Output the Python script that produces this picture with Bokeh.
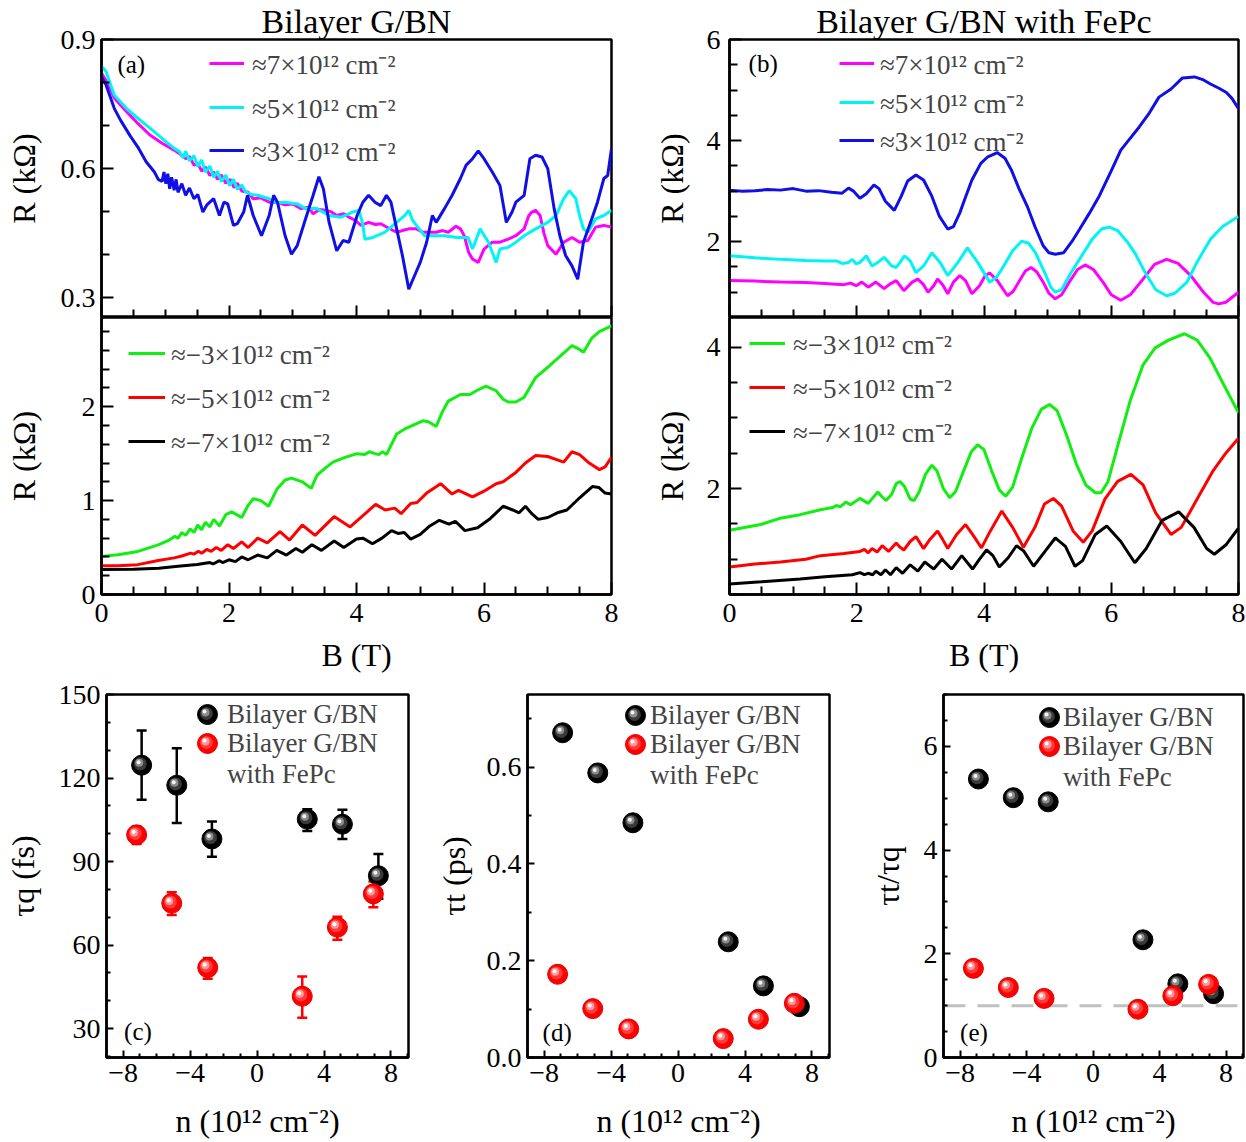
from bokeh.plotting import figure
from bokeh.layouts import row, column
from bokeh.models import (Range1d, FixedTicker, Legend, LegendItem, Label, Title,
                          ColumnDataSource, Whisker, TeeHead, Span)
from bokeh.core.properties import value
from bokeh.transform import dodge
from bokeh.embed import file_html
from bokeh.resources import INLINE

FONT = "Liberation Serif"

# ---------------- panel (a): Bilayer G/BN, B (T) vs R (kOhm) ----------------
a_p7 = [(0.00,0.822),(0.11,0.795),(0.20,0.764),(0.39,0.733),(0.57,0.705),(0.76,0.678),(0.95,0.659),(1.14,0.643),(1.25,0.632),(1.32,0.623),(1.38,0.628),(1.45,0.608),(1.51,0.612),(1.57,0.594),(1.63,0.604),(1.70,0.584),(1.76,0.592),(1.82,0.575),(1.88,0.585),(1.95,0.566),(2.02,0.575),(2.08,0.556),(2.13,0.566),(2.20,0.548),(2.30,0.545),(2.38,0.530),(2.50,0.532),(2.63,0.522),(2.75,0.522),(2.88,0.516),(3.00,0.518),(3.13,0.507),(3.25,0.510),(3.32,0.495),(3.42,0.505),(3.51,0.503),(3.60,0.500),(3.69,0.491),(3.80,0.495),(3.88,0.487),(3.98,0.480),(4.07,0.468),(4.19,0.475),(4.30,0.470),(4.38,0.472),(4.50,0.462),(4.63,0.452),(4.72,0.456),(4.82,0.460),(4.94,0.460),(5.04,0.452),(5.13,0.452),(5.25,0.452),(5.35,0.456),(5.44,0.452),(5.56,0.466),(5.63,0.460),(5.69,0.444),(5.76,0.405),(5.82,0.390),(5.91,0.382),(6.00,0.413),(6.13,0.429),(6.25,0.429),(6.38,0.436),(6.50,0.444),(6.63,0.460),(6.70,0.490),(6.75,0.499),(6.81,0.503),(6.88,0.491),(6.94,0.450),(7.00,0.421),(7.13,0.401),(7.25,0.429),(7.38,0.440),(7.50,0.429),(7.63,0.433),(7.75,0.464),(7.88,0.468),(8.00,0.464)]
a_p5 = [(0.00,0.838),(0.07,0.826),(0.20,0.771),(0.39,0.740),(0.57,0.717),(0.76,0.694),(0.95,0.670),(1.14,0.647),(1.22,0.640),(1.28,0.625),(1.32,0.640),(1.38,0.618),(1.45,0.630),(1.51,0.605),(1.57,0.620),(1.63,0.592),(1.70,0.606),(1.76,0.580),(1.82,0.594),(1.88,0.570),(1.95,0.585),(2.01,0.560),(2.07,0.575),(2.13,0.552),(2.20,0.562),(2.26,0.546),(2.35,0.540),(2.45,0.538),(2.63,0.530),(2.75,0.520),(2.88,0.522),(3.07,0.518),(3.20,0.507),(3.38,0.507),(3.57,0.491),(3.76,0.487),(3.94,0.499),(4.04,0.503),(4.10,0.470),(4.13,0.436),(4.26,0.440),(4.44,0.452),(4.63,0.475),(4.75,0.490),(4.82,0.503),(4.88,0.480),(4.94,0.468),(5.07,0.444),(5.19,0.444),(5.38,0.444),(5.57,0.440),(5.75,0.440),(5.82,0.413),(5.94,0.460),(6.07,0.429),(6.19,0.382),(6.25,0.413),(6.38,0.417),(6.50,0.429),(6.63,0.444),(6.81,0.460),(7.00,0.475),(7.13,0.491),(7.25,0.530),(7.34,0.549),(7.44,0.530),(7.50,0.490),(7.56,0.460),(7.63,0.452),(7.75,0.483),(7.88,0.491),(8.00,0.503)]
a_p3 = [(0.00,0.814),(0.07,0.795),(0.20,0.740),(0.30,0.712),(0.45,0.676),(0.57,0.650),(0.70,0.616),(0.83,0.592),(0.89,0.575),(0.95,0.570),(0.98,0.592),(1.01,0.565),(1.04,0.588),(1.07,0.553),(1.10,0.580),(1.14,0.550),(1.17,0.575),(1.20,0.545),(1.26,0.565),(1.32,0.538),(1.38,0.555),(1.45,0.530),(1.51,0.540),(1.59,0.499),(1.65,0.515),(1.70,0.522),(1.76,0.530),(1.85,0.491),(1.92,0.522),(1.98,0.518),(2.07,0.468),(2.13,0.472),(2.23,0.499),(2.29,0.538),(2.38,0.491),(2.51,0.444),(2.63,0.491),(2.70,0.538),(2.76,0.522),(2.88,0.444),(2.98,0.401),(3.07,0.421),(3.20,0.483),(3.32,0.538),(3.41,0.581),(3.48,0.553),(3.57,0.475),(3.69,0.409),(3.79,0.433),(3.88,0.429),(4.01,0.491),(4.10,0.522),(4.19,0.538),(4.29,0.522),(4.38,0.514),(4.47,0.538),(4.54,0.522),(4.63,0.460),(4.72,0.398),(4.82,0.320),(4.91,0.351),(5.00,0.382),(5.10,0.429),(5.19,0.491),(5.25,0.475),(5.38,0.507),(5.50,0.538),(5.63,0.577),(5.72,0.608),(5.82,0.623),(5.91,0.641),(6.00,0.623),(6.13,0.592),(6.25,0.561),(6.35,0.475),(6.44,0.499),(6.50,0.522),(6.63,0.538),(6.72,0.623),(6.81,0.631),(6.91,0.627),(7.00,0.600),(7.10,0.507),(7.19,0.444),(7.28,0.398),(7.38,0.374),(7.47,0.343),(7.56,0.429),(7.69,0.483),(7.78,0.522),(7.88,0.577),(7.94,0.584),(8.00,0.647)]
a_m3 = [(0.00,0.406),(0.26,0.423),(0.57,0.459),(0.89,0.529),(1.07,0.582),(1.15,0.620),(1.20,0.600),(1.26,0.660),(1.32,0.630),(1.39,0.700),(1.45,0.660),(1.51,0.740),(1.57,0.690),(1.63,0.770),(1.70,0.720),(1.76,0.800),(1.85,0.730),(1.95,0.850),(2.04,0.880),(2.12,0.850),(2.20,0.820),(2.30,0.950),(2.38,1.020),(2.50,1.000),(2.62,0.940),(2.75,1.120),(2.88,1.220),(2.98,1.240),(3.15,1.200),(3.29,1.130),(3.38,1.270),(3.50,1.340),(3.63,1.410),(3.82,1.460),(4.01,1.500),(4.13,1.490),(4.20,1.520),(4.29,1.500),(4.35,1.490),(4.41,1.520),(4.47,1.490),(4.55,1.600),(4.63,1.710),(4.75,1.760),(4.88,1.800),(5.04,1.850),(5.13,1.840),(5.25,1.790),(5.35,1.950),(5.44,2.060),(5.63,2.130),(5.78,2.130),(5.88,2.170),(6.03,2.220),(6.19,2.170),(6.30,2.080),(6.38,2.050),(6.50,2.050),(6.63,2.100),(6.81,2.310),(7.00,2.420),(7.13,2.500),(7.38,2.650),(7.50,2.610),(7.56,2.580),(7.69,2.730),(7.81,2.800),(8.00,2.860)]
a_m5 = [(0.00,0.307),(0.26,0.307),(0.57,0.318),(0.89,0.363),(1.14,0.390),(1.26,0.410),(1.40,0.440),(1.45,0.430),(1.52,0.460),(1.57,0.440),(1.65,0.480),(1.72,0.460),(1.80,0.500),(1.88,0.470),(1.98,0.530),(2.07,0.490),(2.20,0.560),(2.30,0.500),(2.45,0.600),(2.60,0.550),(2.80,0.670),(2.95,0.580),(3.15,0.740),(3.35,0.630),(3.65,0.830),(3.90,0.720),(4.15,0.870),(4.30,0.960),(4.45,0.900),(4.60,0.920),(4.70,0.860),(4.85,0.970),(4.95,0.980),(5.10,1.080),(5.32,1.180),(5.50,1.070),(5.60,1.110),(5.82,1.040),(6.00,1.100),(6.19,1.180),(6.30,1.200),(6.50,1.300),(6.65,1.400),(6.81,1.480),(7.00,1.470),(7.25,1.410),(7.38,1.520),(7.50,1.490),(7.65,1.400),(7.81,1.330),(7.90,1.360),(8.00,1.460)]
a_m7 = [(0.00,0.265),(0.50,0.270),(0.90,0.280),(1.20,0.300),(1.50,0.320),(1.60,0.330),(1.70,0.340),(1.75,0.325),(1.85,0.360),(1.90,0.340),(2.00,0.370),(2.10,0.350),(2.20,0.400),(2.30,0.370),(2.45,0.420),(2.60,0.390),(2.75,0.470),(2.90,0.420),(3.05,0.490),(3.15,0.450),(3.30,0.530),(3.45,0.470),(3.65,0.570),(3.80,0.500),(4.00,0.590),(4.10,0.600),(4.25,0.540),(4.40,0.600),(4.55,0.680),(4.65,0.650),(4.75,0.660),(4.85,0.590),(5.00,0.640),(5.15,0.730),(5.30,0.790),(5.45,0.750),(5.55,0.780),(5.70,0.680),(5.90,0.710),(6.10,0.810),(6.30,0.940),(6.45,0.900),(6.55,0.870),(6.65,0.940),(6.75,0.860),(6.85,0.800),(7.00,0.820),(7.15,0.870),(7.30,0.900),(7.50,1.030),(7.70,1.150),(7.80,1.140),(7.90,1.080),(8.00,1.070)]

# ---------------- panel (b): Bilayer G/BN with FePc ----------------
b_p7 = [(0.00,1.23),(0.40,1.22),(0.80,1.20),(1.20,1.19),(1.43,1.18),(1.80,1.15),(1.90,1.18),(1.99,1.13),(2.08,1.20),(2.18,1.10),(2.30,1.20),(2.43,1.07),(2.52,1.16),(2.62,1.23),(2.74,1.03),(2.87,1.20),(2.96,1.26),(3.05,1.15),(3.12,1.00),(3.21,1.13),(3.27,1.26),(3.35,1.15),(3.43,0.97),(3.52,1.20),(3.62,1.33),(3.71,1.23),(3.81,0.97),(3.93,1.13),(4.02,1.33),(4.09,1.38),(4.21,1.23),(4.37,0.93),(4.46,1.02),(4.56,1.23),(4.65,1.42),(4.74,1.49),(4.83,1.40),(4.93,1.20),(5.02,0.98),(5.12,0.87),(5.22,0.95),(5.34,1.20),(5.47,1.45),(5.59,1.54),(5.72,1.45),(5.87,1.20),(6.00,0.95),(6.15,0.84),(6.30,0.95),(6.50,1.26),(6.68,1.55),(6.87,1.65),(7.05,1.57),(7.25,1.33),(7.45,1.00),(7.60,0.80),(7.69,0.77),(7.80,0.80),(7.90,0.90),(8.00,1.00)]
b_p5 = [(0.00,1.72),(0.40,1.68),(0.80,1.65),(1.20,1.63),(1.50,1.62),(1.68,1.62),(1.77,1.57),(1.87,1.59),(1.93,1.65),(1.99,1.56),(2.05,1.59),(2.15,1.72),(2.24,1.52),(2.33,1.59),(2.43,1.69),(2.55,1.52),(2.62,1.49),(2.68,1.59),(2.75,1.72),(2.84,1.62),(2.93,1.39),(3.05,1.52),(3.18,1.78),(3.31,1.59),(3.43,1.33),(3.59,1.59),(3.74,1.88),(3.90,1.59),(4.09,1.20),(4.20,1.30),(4.31,1.52),(4.45,1.82),(4.59,2.01),(4.70,1.97),(4.81,1.78),(4.95,1.40),(5.05,1.10),(5.12,1.00),(5.22,1.05),(5.35,1.35),(5.50,1.65),(5.70,2.05),(5.85,2.25),(5.97,2.29),(6.10,2.22),(6.25,2.00),(6.37,1.78),(6.55,1.35),(6.70,1.05),(6.87,0.93),(7.00,0.98),(7.19,1.20),(7.35,1.60),(7.56,2.05),(7.75,2.30),(8.00,2.50)]
b_p3 = [(0.00,3.02),(0.20,3.00),(0.40,3.01),(0.60,3.03),(0.80,3.02),(1.00,3.05),(1.20,3.00),(1.40,3.01),(1.60,2.98),(1.77,2.96),(1.87,3.06),(1.95,3.00),(2.05,2.86),(2.15,2.95),(2.27,3.12),(2.35,3.05),(2.45,2.80),(2.59,2.62),(2.70,2.90),(2.80,3.20),(2.93,3.32),(3.05,3.22),(3.18,2.90),(3.30,2.50),(3.43,2.25),(3.52,2.30),(3.62,2.57),(3.70,2.85),(3.81,3.22),(3.95,3.55),(4.06,3.68),(4.21,3.76),(4.33,3.65),(4.43,3.42),(4.55,3.05),(4.68,2.70),(4.80,2.30),(4.93,1.92),(5.02,1.78),(5.12,1.75),(5.25,1.78),(5.38,2.00),(5.50,2.24),(5.65,2.55),(5.81,2.90),(6.00,3.40),(6.15,3.81),(6.30,4.05),(6.44,4.27),(6.60,4.55),(6.75,4.86),(6.94,5.02),(7.12,5.24),(7.31,5.26),(7.45,5.20),(7.56,5.12),(7.70,5.03),(7.81,4.95),(7.90,4.83),(8.00,4.63)]
b_m3 = [(0.00,1.41),(0.49,1.49),(0.80,1.58),(1.11,1.63),(1.43,1.70),(1.62,1.73),(1.68,1.76),(1.74,1.74),(1.83,1.81),(1.90,1.77),(2.05,1.86),(2.18,1.79),(2.33,1.95),(2.40,1.88),(2.46,1.83),(2.55,1.92),(2.62,2.07),(2.68,2.10),(2.75,2.03),(2.84,1.85),(2.90,1.83),(2.98,1.95),(3.08,2.20),(3.18,2.33),(3.26,2.25),(3.36,2.00),(3.46,1.87),(3.55,1.95),(3.68,2.25),(3.80,2.52),(3.90,2.62),(4.00,2.55),(4.12,2.25),(4.24,1.98),(4.34,1.89),(4.45,2.02),(4.60,2.45),(4.75,2.85),(4.90,3.12),(5.03,3.19),(5.15,3.10),(5.30,2.75),(5.45,2.35),(5.60,2.05),(5.75,1.94),(5.84,1.94),(5.95,2.10),(6.10,2.60),(6.30,3.25),(6.50,3.75),(6.69,3.99),(6.90,4.10),(7.15,4.19),(7.35,4.10),(7.55,3.85),(7.75,3.50),(8.00,3.07)]
b_m5 = [(0.00,0.89),(0.40,0.93),(0.80,0.96),(1.20,1.00),(1.43,1.05),(1.80,1.08),(2.05,1.11),(2.12,1.14),(2.18,1.09),(2.24,1.15),(2.32,1.10),(2.40,1.19),(2.50,1.11),(2.62,1.23),(2.68,1.17),(2.74,1.13),(2.84,1.25),(2.93,1.32),(3.00,1.22),(3.05,1.15),(3.15,1.28),(3.27,1.40),(3.35,1.28),(3.43,1.15),(3.57,1.35),(3.71,1.49),(3.82,1.35),(3.96,1.16),(4.10,1.40),(4.28,1.68),(4.45,1.45),(4.62,1.17),(4.80,1.45),(4.95,1.78),(5.09,1.86),(5.22,1.75),(5.40,1.40),(5.56,1.24),(5.70,1.40),(5.90,1.85),(6.10,2.10),(6.31,2.20),(6.50,2.05),(6.70,1.65),(6.94,1.35),(7.10,1.45),(7.35,1.85),(7.60,2.25),(7.80,2.50),(8.00,2.71)]
b_m7 = [(0.00,0.65),(0.50,0.68),(1.11,0.72),(1.50,0.75),(1.93,0.78),(2.05,0.81),(2.12,0.78),(2.18,0.80),(2.25,0.78),(2.30,0.83),(2.38,0.78),(2.45,0.85),(2.53,0.78),(2.62,0.88),(2.72,0.80),(2.84,0.92),(2.96,0.83),(3.07,0.96),(3.21,0.86),(3.34,1.00),(3.49,0.86),(3.65,1.05),(3.82,0.86),(3.93,1.00),(4.04,1.13),(4.14,1.05),(4.24,0.89),(4.38,1.02),(4.51,1.19),(4.62,1.12),(4.78,0.90),(4.95,1.10),(5.12,1.30),(5.28,1.18),(5.43,0.90),(5.55,0.98),(5.75,1.35),(5.93,1.47),(6.15,1.25),(6.37,0.95),(6.55,1.15),(6.80,1.55),(7.06,1.67),(7.30,1.45),(7.50,1.15),(7.62,1.07),(7.80,1.20),(8.00,1.44)]

legend_pos = ["≈7×10¹² cm⁻²", "≈5×10¹² cm⁻²", "≈3×10¹² cm⁻²"]
legend_neg = ["≈−3×10¹² cm⁻²", "≈−5×10¹² cm⁻²", "≈−7×10¹² cm⁻²"]
titles = ["Bilayer G/BN", "Bilayer G/BN with FePc"]

# ---------------- panels (c)-(e) ----------------
n_bn = [-6.9, -4.8, -2.7, 3.0, 5.1, 7.25]
n_fe = [-7.2, -5.1, -2.95, 2.7, 4.8, 6.95]
tq_bn = [124.6, 117.4, 98.1, 105.2, 103.4, 84.9]
tq_bn_lo = [112.2, 103.8, 91.7, 101.0, 98.1, 76.6]
tq_bn_hi = [137.1, 130.7, 104.4, 108.8, 108.6, 92.7]
tq_fe = [99.6, 75.0, 51.9, 41.6, 66.4, 78.4]
tq_fe_lo = [96.3, 70.8, 47.9, 33.9, 61.9, 73.6]
tq_fe_hi = [102.6, 79.0, 55.3, 48.7, 70.2, 82.8]
tt_bn = [0.671, 0.588, 0.485, 0.239, 0.148, 0.105]
tt_fe = [0.172, 0.101, 0.059, 0.039, 0.079, 0.112]
ratio_bn = [5.37, 5.01, 4.93, 2.27, 1.42, 1.23]
ratio_fe = [1.72, 1.35, 1.14, 0.93, 1.19, 1.41]
series_names = ["Bilayer G/BN", "Bilayer G/BN", "with FePc"]

B_ticks = [0, 2, 4, 6, 8]
B_labels = ["0", "2", "4", "6", "8"]
n_ticks = [-8, -4, 0, 4, 8]
n_labels = ["−8", "−4", "0", "4", "8"]

MAG, CYA, BLU = "#ff00ff", "#00f4f4", "#1010e6"
GRN, RED, BLK = "#11ee11", "#ff0000", "#000000"


def xy(pairs):
    return [p[0] for p in pairs], [p[1] for p in pairs]


def mk(width, height, xr, yr, bl, br, bt, bb):
    p = figure(width=width, height=height, x_range=xr, y_range=yr, title=None,
               output_backend="svg", toolbar_location=None,
               min_border_left=bl, min_border_right=br,
               min_border_top=bt, min_border_bottom=bb)
    p.xgrid.visible = False
    p.ygrid.visible = False
    p.outline_line_color = "black"
    p.outline_line_width = 2.5
    p.outline_line_alpha = 1
    p.background_fill_color = "white"
    p.border_fill_color = "white"
    return p


def axis_style(ax, ticks, labels, minor, tin, mtin, standoff, label="", als=10, fs="28px"):
    ax.ticker = FixedTicker(ticks=ticks, minor_ticks=minor)
    ax.major_label_overrides = {t: l for t, l in zip(ticks, labels)}
    ax.major_tick_in = tin
    ax.major_tick_out = 0
    ax.minor_tick_in = mtin
    ax.minor_tick_out = 0
    ax.major_tick_line_width = 2
    ax.minor_tick_line_width = 2
    ax.axis_line_width = 2.5
    ax.major_label_text_font = FONT
    ax.major_label_text_font_size = fs
    ax.major_label_text_color = "black"
    ax.major_label_standoff = standoff
    ax.axis_label = label
    ax.axis_label_text_font = FONT
    ax.axis_label_text_font_style = "normal"
    ax.axis_label_text_font_size = "32px"
    ax.axis_label_text_color = "black"
    ax.axis_label_standoff = als


def legend_at(p, fr, renderers, label, left, cy, gw, gh, standoff=0, font="27px"):
    """One-row legend; left / cy are page pixels, fr = (frame_left, frame_top, frame_h)."""
    fl, ft, fh = fr
    p.add_layout(Legend(items=[LegendItem(label=value(label), renderers=renderers)],
                        location=(left - fl, fh - (cy - ft) - gh / 2),
                        padding=0, margin=0, spacing=0, label_standoff=standoff,
                        glyph_width=gw, glyph_height=gh, label_height=gh, label_width=1,
                        label_text_font=FONT, label_text_font_size=font,
                        border_line_color=None, background_fill_alpha=0))


def tag(p, x, y, text, size="25px"):
    p.add_layout(Label(x=x, y=y, text=text, text_font=FONT, text_font_size=size,
                       text_baseline="middle", text_align="left", text_color="black"))


def add_title(p, text):
    p.add_layout(Title(text=text, align="center", text_font=FONT, text_font_size="34px",
                       text_font_style="normal", text_color="black", standoff=0, offset=0),
                 "above")


B_minor = [0.5 * i for i in range(17) if i % 4]
hidden = ["", "", "", "", ""]

# ================= top row =================
xa = Range1d(0, 8)
xb = Range1d(0, 8)

FR_AT = (101, 38, 279)
FR_AB = (101, 317, 277)
FR_BT = (729, 38, 279)
FR_BB = (729, 317, 277)


def line_panel(p, fr, series, labels, line_left, gw, rows, text_left):
    for (d, c), lab, cy in zip(series, labels, rows):
        x, y = xy(d)
        r = p.line(x, y, line_color=c, line_width=3)
        legend_at(p, fr, [r], lab, line_left, cy, gw, 42, standoff=text_left - line_left - gw)


a_top = mk(620, 317, xa, Range1d(0.254, 0.9), 101, 9, 38, 0)
axis_style(a_top.xaxis[0], B_ticks, hidden, B_minor, 12, 8, 0, fs="1px")
axis_style(a_top.yaxis[0], [0.3, 0.6, 0.9], ["0.3", "0.6", "0.9"], [0.4, 0.5, 0.7, 0.8], 12, 8, 6,
           label="R (kΩ)", als=16)
line_panel(a_top, FR_AT, [(a_p7, MAG), (a_p5, CYA), (a_p3, BLU)], legend_pos, 209, 35,
           [63, 107, 150], 252)
tag(a_top, 0.25, 0.842, "(a)")
add_title(a_top, titles[0])

a_bot = mk(620, 359, xa, Range1d(0, 2.95), 101, 9, 0, 82)
axis_style(a_bot.xaxis[0], B_ticks, B_labels, B_minor, 12, 8, 9, label="B (T)", als=12)
axis_style(a_bot.yaxis[0], [0, 1, 2], ["0", "1", "2"], [0.2 * i for i in range(15) if i % 5], 12, 8, 6,
           label="R (kΩ)", als=37)
line_panel(a_bot, FR_AB, [(a_m3, GRN), (a_m5, RED), (a_m7, BLK)], legend_neg, 128, 37,
           [353, 397, 441], 171)

b_top = mk(626, 317, xb, Range1d(0.5, 6), 109, 8, 38, 0)
axis_style(b_top.xaxis[0], B_ticks, hidden, B_minor, 12, 8, 0, fs="1px")
axis_style(b_top.yaxis[0], [2, 4, 6], ["2", "4", "6"], [0.5, 1, 1.5, 2.5, 3, 3.5, 4.5, 5, 5.5], 12, 8, 9,
           label="R (kΩ)", als=14)
line_panel(b_top, FR_BT, [(b_p7, MAG), (b_p5, CYA), (b_p3, BLU)], legend_pos, 839, 35,
           [63, 102, 140], 880)
tag(b_top, 0.3, 5.52, "(b)")
add_title(b_top, titles[1])

b_bot = mk(626, 359, xb, Range1d(0.5, 4.42), 109, 8, 0, 82)
axis_style(b_bot.xaxis[0], B_ticks, B_labels, B_minor, 12, 8, 9, label="B (T)", als=12)
axis_style(b_bot.yaxis[0], [2, 4], ["2", "4"], [0.5, 1, 1.5, 2.5, 3, 3.5], 12, 8, 9,
           label="R (kΩ)", als=14)
line_panel(b_bot, FR_BB, [(b_m3, GRN), (b_m5, RED), (b_m7, BLK)], legend_neg, 749, 36,
           [343, 387, 431], 793)

# ================= bottom row =================
n_minor = [i for i in range(-9, 10) if i % 4]
HL = [(13, 0.45), (8, 0.8), (4, 1.0)]   # highlight size, relative offset
BLK_HL = ["#3a3a3a", "#8c8c8c", "#f2f2f2"]
RED_HL = ["#ff3a3a", "#ff9a9a", "#ffffff"]


def spheres(p, src, base, edge, hl, dx, dy):
    r0 = p.scatter("n", "v", source=src, size=20, fill_color=base, line_color=edge, line_width=1)
    rs = [r0]
    for (s, k), c in zip(HL, hl):
        r = p.scatter(dodge("n", -dx * k, range=None), dodge("v", dy * k, range=None), source=src,
                      size=s, fill_color=c, line_color=None)
        rs.append(r)
    return rs


def dot_legend(p, fr, rb, rf, ghost, cx, rows, text_left):
    # spheres for the first two rows, drawn layer by layer
    for rends, cy in [(rb, rows[0]), (rf, rows[1])]:
        legend_at(p, fr, [rends[0]], " ", cx - 25, cy, 50, 50, font="1px")
        for r, (s, k) in zip(rends[1:], HL):
            g = int(round(s / 0.4))
            off = 3.0 * k
            legend_at(p, fr, [r], " ", cx - off - g / 2, cy - off, g, g, font="1px")
    # texts
    for name, cy in zip(series_names, rows):
        legend_at(p, fr, [ghost], name, text_left - 2, cy, 2, 40, standoff=0)


def bottom_panel(width, bl, br, yr, yticks, ylabels, yminor, ystand, ylabel, yals, ybn, yfe):
    p = mk(width, 466, Range1d(-9, 9.05), yr, bl, br, 18, 85)
    axis_style(p.xaxis[0], n_ticks, n_labels, n_minor, 7, 4, 6, label="n (10¹² cm⁻²)", als=18)
    axis_style(p.yaxis[0], yticks, ylabels, yminor, 7, 4, ystand, label=ylabel, als=yals)
    src_bn = ColumnDataSource(dict(n=n_bn, v=ybn))
    src_fe = ColumnDataSource(dict(n=n_fe, v=yfe))
    return p, src_bn, src_fe


# (c)
FR_C = (106, 694, 363)
pc, sb, sf = bottom_panel(430, 106, 22, Range1d(19.6, 150), [30, 60, 90, 120, 150],
                          ["30", "60", "90", "120", "150"],
                          [v for v in range(20, 151, 10) if v % 30], 6, "τq (fs)", 15,
                          tq_bn, tq_fe)
sb.data.update(lo=tq_bn_lo, hi=tq_bn_hi)
sf.data.update(lo=tq_fe_lo, hi=tq_fe_hi)
for s, c in [(sb, BLK), (sf, RED)]:
    pc.add_layout(Whisker(source=s, base="n", upper="hi", lower="lo", dimension="height",
                          line_color=c, line_width=2.5, level="underlay",
                          upper_head=TeeHead(size=10, line_width=2.5, line_color=c),
                          lower_head=TeeHead(size=10, line_width=2.5, line_color=c)))
rb = spheres(pc, sb, BLK, BLK, BLK_HL, 0.18, 1.08)
rf = spheres(pc, sf, RED, "#e00000", RED_HL, 0.18, 1.08)
gh = pc.scatter("n", "v", source=sf, size=1, fill_alpha=0, line_alpha=0)
dot_legend(pc, FR_C, rb, rf, gh, 207, [714, 743, 774], 227)
tag(pc, -7.95, 29, "(c)")

# (d)
FR_D = (527, 694, 363)
pd_, sb, sf = bottom_panel(420, 97, 21, Range1d(0, 0.75), [0, 0.2, 0.4, 0.6],
                           ["0.0", "0.2", "0.4", "0.6"], [0.1, 0.3, 0.5, 0.7], 6, "τt (ps)", 12,
                           tt_bn, tt_fe)
rb = spheres(pd_, sb, BLK, BLK, BLK_HL, 0.18, 0.0062)
rf = spheres(pd_, sf, RED, "#e00000", RED_HL, 0.18, 0.0062)
gh = pd_.scatter("n", "v", source=sf, size=1, fill_alpha=0, line_alpha=0)
dot_legend(pd_, FR_D, rb, rf, gh, 635, [715, 744, 775], 650)
tag(pd_, -8.1, 0.052, "(d)")

# (e)
FR_E = (943, 694, 363)
pe, sb, sf = bottom_panel(396, 93, 3, Range1d(0, 7), [0, 2, 4, 6], ["0", "2", "4", "6"],
                          [0.5 * i for i in range(15) if i % 4], 6, "τt/τq", 15,
                          ratio_bn, ratio_fe)
pe.add_layout(Span(location=1, dimension="width", line_color="#c0c0c0", line_width=3,
                   line_dash="22 12", level="underlay"))
rb = spheres(pe, sb, BLK, BLK, BLK_HL, 0.18, 0.058)
rf = spheres(pe, sf, RED, "#e00000", RED_HL, 0.18, 0.058)
gh = pe.scatter("n", "v", source=sf, size=1, fill_alpha=0, line_alpha=0)
dot_legend(pe, FR_E, rb, rf, gh, 1049, [717, 746, 777], 1063)
tag(pe, -8.0, 0.49, "(e)")

layout = column(
    row(column(a_top, a_bot, spacing=0), column(b_top, b_bot, spacing=0), spacing=0),
    row(pc, pd_, pe, spacing=0),
    spacing=0,
)

open("out.html", "w").write(file_html(layout, INLINE))
